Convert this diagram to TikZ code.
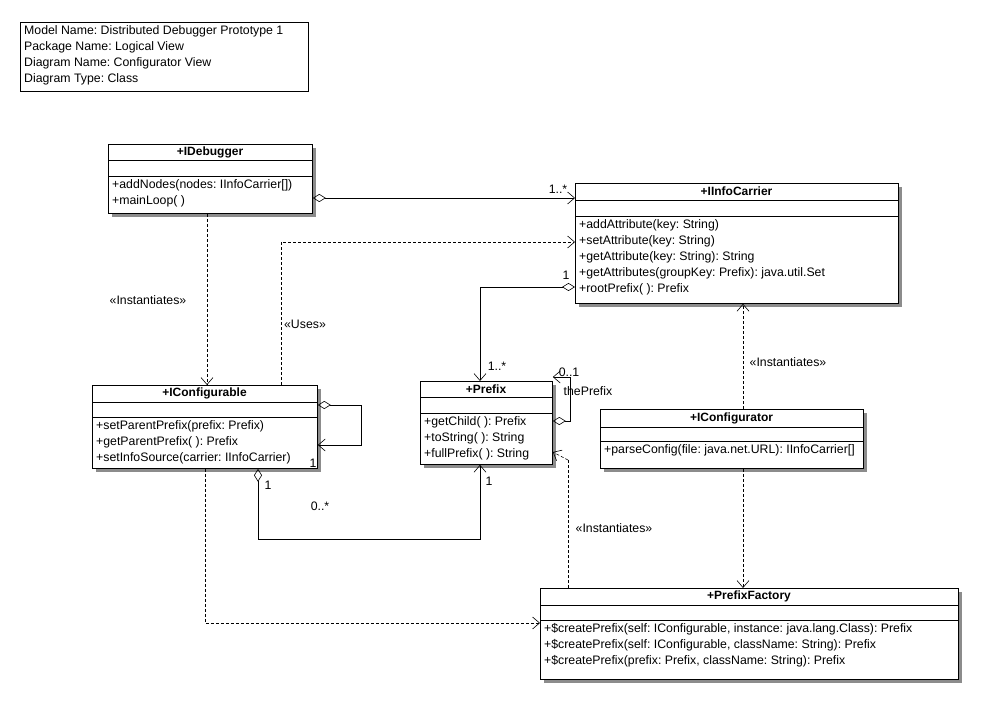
\documentclass[tikz,border=0pt]{standalone}
\usepackage{fontspec}
\setmainfont{Liberation Sans}
\frenchspacing
\usetikzlibrary{arrows.meta,shadows}
\tikzset{
 x=1pt,y=-1pt,
 box/.style={draw,fill=white,line width=0.8pt,anchor=north west,inner sep=0pt,drop shadow={shadow xshift=4pt,shadow yshift=-4pt,fill=black!45,opacity=1}},
 txt/.style={font=\fontsize{12.3}{16}\selectfont,inner sep=0pt,align=left},
 ttl/.style={font=\fontsize{12}{16}\selectfont\bfseries,inner sep=0pt},
 lbl/.style={font=\fontsize{12.3}{13}\selectfont,inner sep=0pt},
 ln/.style={line width=0.6pt},
 dsh/.style={line width=0.6pt,dash pattern=on 3pt off 2pt},
 tip/.style={-{Straight Barb[length=7pt,width=12pt]}},
 agg/.style={{Diamond[open,length=13pt,width=8pt]}-{Straight Barb[length=7pt,width=12pt]}},
}
\newcommand\umlclass[9]{%
 \node[box,minimum width=#4-#2,minimum height=#5-#3] (#1) at (#2,#3) {};
 \draw[line width=0.8pt] (#2,#7)--(#4,#7) (#2,#8)--(#4,#8);
 \node[ttl] (#1t) at ({(#2+#4)/2},{(#3+#7)/2}) {#6};
 \node[txt,anchor=north west] (#1m) at (#2+4,#8+3) {#9};
}
\begin{document}
\begin{tikzpicture}
\useasboundingbox[fill=white] (0,0) rectangle (984,708);
\node[draw,line width=0.6pt,anchor=north west,minimum width=288pt,minimum height=69pt,inner sep=0pt] (info) at (20,22) {};
\node[txt,anchor=north west] (infot) at (24,25) {Model Name: Distributed Debugger Prototype 1\\Package Name: Logical View\\Diagram Name: Configurator View\\Diagram Type: Class};

\umlclass{deb}{108}{144}{312}{213}{+IDebugger}{160}{176}{+addNodes(nodes: IInfoCarrier[])\\+mainLoop( )}
\umlclass{car}{575}{183}{898}{303}{+IInfoCarrier}{200}{216}{+addAttribute(key: String)\\+setAttribute(key: String)\\+getAttribute(key: String): String\\+getAttributes(groupKey: Prefix): java.util.Set\\+rootPrefix( ): Prefix}
\umlclass{cfg}{92}{385}{317}{468}{+IConfigurable}{402}{417}{+setParentPrefix(prefix: Prefix)\\+getParentPrefix( ): Prefix\\+setInfoSource(carrier: IInfoCarrier)}
\umlclass{pre}{420}{381}{552}{464}{+Prefix}{397}{413}{+getChild( ): Prefix\\+toString( ): String\\+fullPrefix( ): String}
\umlclass{ctor}{600}{409}{863}{468}{+IConfigurator}{427}{441}{+parseConfig(file: java.net.URL): IInfoCarrier[]}
\umlclass{fac}{540}{588}{958}{679}{+PrefixFactory}{605}{620}{+\$createPrefix(self: IConfigurable, instance: java.lang.Class): Prefix\\+\$createPrefix(self: IConfigurable, className: String): Prefix\\+\$createPrefix(prefix: Prefix, className: String): Prefix}

% IDebugger -> IInfoCarrier
\draw[ln,agg] (deb.east|-0,198) -- (car.west|-0,198);
\node[lbl] (l1) at (558,189) {1..*};
% IDebugger instantiates IConfigurable
\draw[dsh,tip] (deb.south-|207,0) -- (cfg.north-|207,0);
\node[lbl] (l2) at (148,300) {«Instantiates»};
% Uses
\draw[dsh,tip] (cfg.north-|281,0) -- (281,242) -- (car.west|-0,242);
\node[lbl] (l3) at (305,324) {«Uses»};
% IInfoCarrier -> Prefix
\draw[ln,agg] (car.west|-0,287) -- (480,287) -- (pre.north-|480,0);
\node[lbl] (l4) at (566,275) {1};
\node[lbl] (l5) at (497,366) {1..*};
% Prefix self
\draw[ln,agg] (pre.east|-0,421) -- (570,421) -- (570,377) -- (pre.east|-0,377);
\node[lbl] (l6) at (569,372) {0..1};
\node[lbl] (l7) at (588,391) {thePrefix};
% IConfigurable self
\draw[ln,agg] (cfg.east|-0,405) -- (361,405) -- (361,445) -- (cfg.east|-0,445);
\node[lbl] (l8) at (313,463) {1};
% IConfigurable -> Prefix
\draw[ln,agg] (cfg.south-|258,0) -- (258,539) -- (480,539) -- (pre.south-|480,0);
\node[lbl] (l9) at (268,485) {1};
\node[lbl] (l10) at (320,506) {0..*};
\node[lbl] (l11) at (489,481) {1};
% IConfigurator -> IInfoCarrier
\draw[dsh,tip] (ctor.north-|743,0) -- (car.south-|743,0);
\node[lbl] (l12) at (788,362) {«Instantiates»};
% IConfigurator -> PrefixFactory
\draw[dsh,tip] (ctor.south-|743,0) -- (fac.north-|743,0);
% PrefixFactory -> Prefix
\draw[dsh] (fac.north-|568,0) -- (568,460);
\draw[dsh,tip] (568,460) -- (pre.east|-0,452);
\node[lbl] (l13) at (614,528) {«Instantiates»};
% IConfigurable -> PrefixFactory
\draw[dsh,tip] (cfg.south-|205,0) -- (205,623) -- (fac.west|-0,623);
\end{tikzpicture}
\end{document}
